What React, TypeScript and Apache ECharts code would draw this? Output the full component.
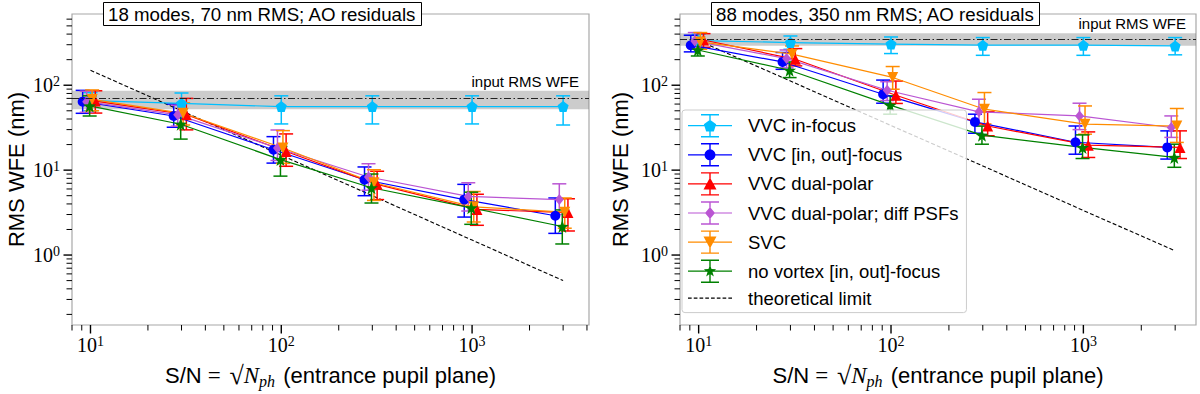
import React, { useEffect, useRef } from 'react';
import * as echarts from 'echarts';

// ---------- data ----------
const SN = [10, 30, 100, 300, 1000, 3000];
const NAMES = ['VVC in-focus', 'VVC [in, out]-focus', 'VVC dual-polar', 'VVC dual-polar; diff PSFs', 'SVC', 'no vortex [in, out]-focus'];
const THEORY_NAME = 'theoretical limit';
const COLORS = ['#00bfff', '#0000ff', '#ff0000', '#ba55d3', '#ff8c00', '#008000'];
const X_JITTER = [1.0, 0.91, 1.06, 0.955, 1.02, 0.99];

const TITLES = ['18 modes, 70 nm RMS; AO residuals', '88 modes, 350 nm RMS; AO residuals'];
const INPUT_RMS = [70, 350];
const INPUT_BAND_LO = [52, 292];
const INPUT_BAND_HI = [86, 410];

// left panel (18 modes, 70 nm)
const L_INFOCUS = [66, 61, 56, 56, 56, 56];
const L_INFOCUS_LO = [50, 42, 35, 35, 35, 34];
const L_INFOCUS_HI = [82, 81, 75, 75, 75, 75];
const L_INOUT = [64, 43.4, 17.4, 7.7, 4.5, 2.9];
const L_INOUT_LO = [46.7, 32, 12.1, 5.0, 2.8, 1.8];
const L_INOUT_HI = [87, 60, 24.8, 10.9, 6.8, 4.7];
const L_DUAL = [65, 45, 16.6, 6.8, 3.45, 3.16];
const L_DUAL_LO = [47, 29.8, 11.1, 4.5, 2.24, 1.92];
const L_DUAL_HI = [86, 70, 26.7, 9.7, 5.2, 4.6];
const L_DIFF = [64, 44.8, 18.2, 8.3, 4.9, 4.5];
const L_DIFF_LO = [48, 33, 13, 5.8, 3.3, 3.0];
const L_DIFF_HI = [85, 58, 29.7, 11.9, 7.1, 6.9];
const L_SVC = [68, 46.7, 18.2, 7.1, 3.7, 3.2];
const L_SVC_LO = [50, 34, 12, 4.4, 2.45, 2.07];
const L_SVC_HI = [88, 62, 29.2, 10.1, 5.6, 4.7];
const L_NOVTX = [57, 34.7, 13.3, 6.2, 3.6, 2.17];
const L_NOVTX_LO = [43.4, 23.2, 8.5, 4.1, 2.3, 1.35];
const L_NOVTX_HI = [75, 48, 19, 9, 5.5, 3.4];
const L_THEORY = [150, 50, 15, 5, 1.5, 0.5];

// right panel (88 modes, 350 nm)
const R_INFOCUS = [335, 318, 305, 296, 296, 290];
const R_INFOCUS_LO = [272, 265, 236, 225, 225, 228];
const R_INFOCUS_HI = [398, 380, 370, 364, 364, 364];
const R_INOUT = [296, 188, 78.4, 37, 21.3, 18.5];
const R_INOUT_LO = [247, 154, 61.4, 27.2, 15.4, 13.5];
const R_INOUT_HI = [388, 243, 115, 45.6, 33.1, 29];
const R_DUAL = [341, 202, 76.3, 33.1, 19.7, 18.5];
const R_DUAL_LO = [280, 169, 61, 25.4, 14.1, 13.7];
const R_DUAL_HI = [405, 270, 112, 48.6, 28.2, 29];
const R_DIFF = [331, 206, 87.3, 48.6, 43.5, 31.8];
const R_DIFF_LO = [270, 160, 66, 34, 30, 24.3];
const R_DIFF_HI = [417, 260, 110, 68.4, 61.4, 43.5];
const R_SVC = [324, 232, 123.5, 52.2, 34.8, 33];
const R_SVC_LO = [265, 180, 89.7, 35, 26.5, 21.2];
const R_SVC_HI = [417, 290, 166, 82, 57, 53.2];
const R_NOVTX = [260, 150, 58.2, 25.8, 18.5, 14.1];
const R_NOVTX_LO = [221, 123, 45.6, 20.2, 13.7, 10.8];
const R_NOVTX_HI = [310, 188, 75, 33, 26, 20.2];
const R_THEORY = [335, 112, 33.5, 11.2, 3.35, 1.12];

// axes
const X_MIN = [8, 8];
const X_MAX = [4100, 3850];
const Y_MIN = 0.15;
const Y_MAX = 690;
const X_MAJOR_TICKS = [10, 100, 1000];
const X_MINOR_TICKS = [8, 9, 20, 30, 40, 50, 60, 70, 80, 90, 200, 300, 400, 500, 600, 700, 800, 900, 2000, 3000, 4000];
const Y_MAJOR_TICKS = [1, 10, 100];
const Y_MINOR_TICKS = [0.2, 0.3, 0.4, 0.5, 0.6, 0.7, 0.8, 0.9, 2, 3, 4, 5, 6, 7, 8, 9, 20, 30, 40, 50, 60, 70, 80, 90, 200, 300, 400, 500, 600];

const PANELS = [
  {
    vals: [L_INFOCUS, L_INOUT, L_DUAL, L_DIFF, L_SVC, L_NOVTX],
    lo: [L_INFOCUS_LO, L_INOUT_LO, L_DUAL_LO, L_DIFF_LO, L_SVC_LO, L_NOVTX_LO],
    hi: [L_INFOCUS_HI, L_INOUT_HI, L_DUAL_HI, L_DIFF_HI, L_SVC_HI, L_NOVTX_HI],
    theory: L_THEORY,
  },
  {
    vals: [R_INFOCUS, R_INOUT, R_DUAL, R_DIFF, R_SVC, R_NOVTX],
    lo: [R_INFOCUS_LO, R_INOUT_LO, R_DUAL_LO, R_DIFF_LO, R_SVC_LO, R_NOVTX_LO],
    hi: [R_INFOCUS_HI, R_INOUT_HI, R_DUAL_HI, R_DIFF_HI, R_SVC_HI, R_NOVTX_HI],
    theory: R_THEORY,
  },
];

// ---------- symbols ----------
const STAR = 'path://M0,-6 L1.41,-1.94 L5.71,-1.85 L2.28,0.74 L3.53,4.85 L0,2.4 L-3.53,4.85 L-2.28,0.74 L-5.71,-1.85 L-1.41,-1.94 Z';
const PENTAGON = 'path://M0,-5.5 L5.23,-1.7 L3.23,4.45 L-3.23,4.45 L-5.23,-1.7 Z';
const SYMBOLS = [PENTAGON, 'circle', 'triangle', 'diamond', 'triangle', STAR];
const SYMBOL_ROTATE = [0, 0, 0, 0, 180, 0];
const SYMBOL_SIZE: any[] = [11, 10, 11, [9, 11], 11, 13];

const ICON_BASE = 'M0,11.4 L44,11.4 L44,12.6 L0,12.6 Z M21.3,1 L22.7,1 L22.7,23 L21.3,23 Z M13,0.3 L31,0.3 L31,1.7 L13,1.7 Z M13,22.3 L31,22.3 L31,23.7 L13,23.7 Z ';
const ICON_MARKERS = [
  'M22,6 L28.18,10.49 L25.82,17.76 L18.18,17.76 L15.82,10.49 Z',
  'M16.5,12 A5.5,5.5 0 1,1 27.5,12 A5.5,5.5 0 1,1 16.5,12 Z',
  'M22,5.5 L28.5,17.5 L15.5,17.5 Z',
  'M22,6 L27,12 L22,18 L17,12 Z',
  'M15.5,6.5 L28.5,6.5 L22,18.5 Z',
  'M22,5.5 L23.53,9.9 L28.18,9.99 L24.47,12.8 L25.82,17.26 L22,14.6 L18.18,17.26 L19.53,12.8 L15.82,9.99 L20.47,9.9 Z',
];
const DASH_ICON = 'path://M0,11.4 L3.5,11.4 L3.5,12.6 L0,12.6 Z M5.5,11.4 L9,11.4 L9,12.6 L5.5,12.6 Z M11,11.4 L14.5,11.4 L14.5,12.6 L11,12.6 Z M16.5,11.4 L20,11.4 L20,12.6 L16.5,12.6 Z M22,11.4 L25.5,11.4 L25.5,12.6 L22,12.6 Z M27.5,11.4 L31,11.4 L31,12.6 L27.5,12.6 Z M33,11.4 L36.5,11.4 L36.5,12.6 L33,12.6 Z M38.5,11.4 L42,11.4 L42,12.6 L38.5,12.6 Z';

const SANS = 'Liberation Sans';
const SERIF = 'Liberation Serif';

function powLabel(v: number) {
  const e = Math.round(Math.log10(v));
  if (Math.abs(v - Math.pow(10, e)) / Math.pow(10, e) > 1e-6) return '';
  return '{b|10}{s|' + e + '}';
}
const POW_RICH = {
  b: { fontFamily: SERIF, fontSize: 20, color: '#000', lineHeight: 22 },
  s: { fontFamily: SERIF, fontSize: 14, color: '#000', lineHeight: 13, verticalAlign: 'top' },
};

function buildOption() {
  const series: any[] = [];
  PANELS.forEach((P, p) => {
    // theoretical limit + input band + input line
    series.push({
      type: 'line', name: THEORY_NAME, xAxisIndex: p, yAxisIndex: p, z: 2,
      data: SN.map((x, i) => [x, P.theory[i]]),
      symbol: 'none', showSymbol: false, silent: true,
      lineStyle: { type: [4, 2.2], width: 1.1, color: '#000' },
      itemStyle: { color: '#000', borderWidth: 0 },
      markArea: {
        silent: true,
        itemStyle: { color: 'rgba(128,128,128,0.4)' },
        label: {
          show: true, position: ['100%', 0], align: 'right', verticalAlign: 'bottom',
          offset: [-10, -2], color: '#000', fontFamily: SANS, fontSize: 15,
          formatter: 'input RMS WFE',
        },
        data: [[{ yAxis: INPUT_BAND_LO[p] }, { yAxis: INPUT_BAND_HI[p] }]],
      },
      markLine: {
        silent: true, symbol: ['none', 'none'],
        label: { show: false },
        lineStyle: { type: [7, 2.5, 1.5, 2.5], color: '#222', width: 1 },
        data: [{ yAxis: INPUT_RMS[p] }],
      },
    });
    for (let k = 0; k < NAMES.length; k++) {
      const c = COLORS[k];
      series.push({
        type: 'custom', name: NAMES[k], xAxisIndex: p, yAxisIndex: p, z: 3, silent: true,
        data: SN.map((x, i) => [x * X_JITTER[k], P.lo[k][i], P.hi[k][i]]),
        encode: { x: 0, y: [1, 2] },
        renderItem: (params: any, api: any) => {
          const x = api.value(0);
          const top = api.coord([x, api.value(2)]);
          const bot = api.coord([x, api.value(1)]);
          const w = 7;
          const style = { stroke: c, lineWidth: 1.5, fill: null };
          return {
            type: 'group',
            children: [
              { type: 'line', shape: { x1: top[0], y1: top[1], x2: bot[0], y2: bot[1] }, style },
              { type: 'line', shape: { x1: top[0] - w, y1: top[1], x2: top[0] + w, y2: top[1] }, style },
              { type: 'line', shape: { x1: bot[0] - w, y1: bot[1], x2: bot[0] + w, y2: bot[1] }, style },
            ],
          };
        },
      });
      series.push({
        type: 'line', name: NAMES[k], xAxisIndex: p, yAxisIndex: p, z: 3, silent: true,
        data: SN.map((x, i) => [x * X_JITTER[k], P.vals[k][i]]),
        symbol: SYMBOLS[k], symbolSize: SYMBOL_SIZE[k], symbolRotate: SYMBOL_ROTATE[k],
        showSymbol: true, showAllSymbol: true,
        lineStyle: { width: 1.2, color: c },
        itemStyle: { color: c, borderWidth: 0 },
        emphasis: { disabled: true },
      });
    }
    // axis ticks (matplotlib-like minor log ticks)
    const yTicks = [...Y_MAJOR_TICKS.map((v) => [10, v, 1]), ...Y_MINOR_TICKS.map((v) => [10, v, 0])];
    series.push({
      type: 'custom', name: 'yticks' + p, xAxisIndex: p, yAxisIndex: p, z: 10, silent: true, clip: false,
      data: yTicks, encode: { x: 0, y: 1 },
      renderItem: (params: any, api: any) => {
        const cs = params.coordSys;
        const y = api.coord([10, api.value(1)])[1];
        const major = api.value(2) === 1;
        const len = major ? 8.5 : 5.5;
        return { type: 'line', shape: { x1: cs.x - len, y1: y, x2: cs.x, y2: y }, style: { stroke: '#000', lineWidth: major ? 1.4 : 1 } };
      },
    });
    const xTicks = [
      ...X_MAJOR_TICKS.map((v) => [v, 1, 1]),
      ...X_MINOR_TICKS.filter((v) => v >= X_MIN[p] && v <= X_MAX[p]).map((v) => [v, 1, 0]),
    ];
    series.push({
      type: 'custom', name: 'xticks' + p, xAxisIndex: p, yAxisIndex: p, z: 10, silent: true, clip: false,
      data: xTicks, encode: { x: 0, y: 1 },
      renderItem: (params: any, api: any) => {
        const cs = params.coordSys;
        const x = api.coord([api.value(0), 1])[0];
        const major = api.value(2) === 1;
        const len = major ? 8.5 : 5.5;
        const yb = cs.y + cs.height;
        return { type: 'line', shape: { x1: x, y1: yb, x2: x, y2: yb + len }, style: { stroke: '#000', lineWidth: major ? 1.4 : 1 } };
      },
    });
  });

  const grids = [
    { left: 72, top: 14, width: 517, height: 312 },
    { left: 680, top: 14, width: 516, height: 312 },
  ].map((g) => ({ ...g, show: true, borderColor: '#a8a8a8', borderWidth: 1.2, backgroundColor: 'transparent', containLabel: false }));

  const xName = '{a|S/N }{e|= }{r|√}{i|N}{s|ph}{a| (entrance pupil plane)}';
  const xAxes = [0, 1].map((p) => ({
    type: 'log', logBase: 10, gridIndex: p, min: X_MIN[p], max: X_MAX[p],
    axisLine: { show: false }, axisTick: { show: false }, splitLine: { show: false }, minorTick: { show: false },
    axisLabel: { formatter: powLabel, margin: 9, rich: POW_RICH },
    name: xName, nameLocation: 'middle', nameGap: 37,
    nameTextStyle: {
      rich: {
        a: { fontFamily: SANS, fontSize: 22, color: '#000', lineHeight: 27 },
        e: { fontFamily: SERIF, fontSize: 23, color: '#000', lineHeight: 27 },
        r: { fontFamily: SERIF, fontSize: 26, color: '#000', lineHeight: 27, padding: [0, 0, 0, 3] },
        i: { fontFamily: SERIF, fontStyle: 'italic', fontSize: 23, color: '#000', lineHeight: 27 },
        s: { fontFamily: SERIF, fontStyle: 'italic', fontSize: 16, color: '#000', lineHeight: 14, verticalAlign: 'bottom', padding: [0, 2, 0, 0] },
      },
    },
  }));
  const yAxes = [0, 1].map((p) => ({
    type: 'log', logBase: 10, gridIndex: p, min: Y_MIN, max: Y_MAX,
    axisLine: { show: false }, axisTick: { show: false }, splitLine: { show: false }, minorTick: { show: false },
    axisLabel: { formatter: powLabel, margin: 12, rich: POW_RICH },
    name: 'RMS WFE (nm)', nameLocation: 'middle', nameRotate: 90, nameGap: p === 0 ? 45 : 49,
    nameTextStyle: { fontFamily: SANS, fontSize: 22, color: '#000' },
  }));

  const titles = [103, 711].map((left, p) => ({
    text: TITLES[p], left, top: 2,
    padding: [2, 5, 2, 5],
    borderColor: '#000', borderWidth: 1, backgroundColor: '#fff',
    textStyle: { fontFamily: SANS, fontSize: 18.7, fontWeight: 'normal', color: '#000', lineHeight: 20 },
  }));

  return {
    animation: false,
    backgroundColor: '#fff',
    title: titles,
    grid: grids,
    xAxis: xAxes,
    yAxis: yAxes,
    legend: {
      orient: 'vertical', left: 682, top: 110,
      itemWidth: 44, itemHeight: 24, itemGap: 5.7,
      padding: [4, 8, 5, 6],
      backgroundColor: 'rgba(255,255,255,0.8)', borderColor: '#cccccc', borderWidth: 1, borderRadius: 3,
      textStyle: { fontFamily: SANS, fontSize: 18.5, color: '#000', padding: [0, 0, 0, 11] },
      itemStyle: { borderWidth: 0 },
      selectedMode: false,
      data: [
        ...NAMES.map((n, k) => ({ name: n, icon: 'path://' + ICON_BASE + ICON_MARKERS[k], itemStyle: { color: COLORS[k], borderWidth: 0 } })),
        { name: THEORY_NAME, icon: DASH_ICON, itemStyle: { color: '#000', borderWidth: 0 } },
      ],
    },
    series,
  };
}

export default function App() {
  const ref = useRef<HTMLDivElement>(null);
  useEffect(() => {
    const chart = echarts.init(ref.current!, null, { renderer: 'svg' });
    chart.setOption(buildOption() as any);
    return () => chart.dispose();
  }, []);
  return <div ref={ref} style={{ position: 'fixed', left: 0, top: 0, width: 1200, height: 394 }} />;
}
